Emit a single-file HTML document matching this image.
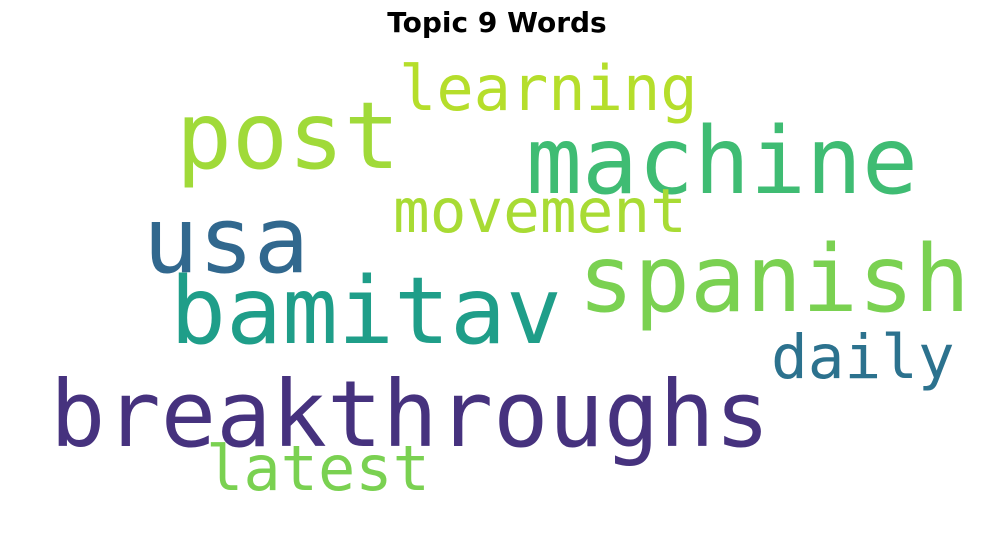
<!DOCTYPE html>
<html><head><meta charset="utf-8"><style>
html,body{margin:0;padding:0;background:#fff;}
svg{display:block;}
.w{font-family:"DejaVu Sans Mono","Liberation Mono",monospace;}
</style></head><body>
<svg width="1004" height="549" viewBox="0 0 1004 549" xmlns="http://www.w3.org/2000/svg">
<rect width="1004" height="549" fill="#ffffff"/>
<text x="497" y="32" text-anchor="middle" font-family="DejaVu Sans, Liberation Sans, sans-serif" font-weight="bold" font-size="28" fill="#000">Topic 9 Words</text>
<g id="words"></g>
</svg>
<script>
const words = ["post","machine","usa","spanish","bamitav","breakthroughs","learning","movement","daily","latest"];
const sizes = [93,93,92,93,93,92,62,61,61,62];
const colors = ["#a0da39","#3fbc73","#31688e","#7ad151","#1f9e89","#46327e","#b5de2b","#a8db34","#2c728e","#7ad151"];
const xs = [176,526,143,578,170,50,399,393,771,206];
const ys = [168,193,272,311,343,446,110,232,378,490];
const g = document.getElementById('words');
words.forEach((w,i)=>{
  const t = document.createElementNS('http://www.w3.org/2000/svg','text');
  t.setAttribute('class','w');
  t.setAttribute('x',xs[i]);
  t.setAttribute('y',ys[i]);
  t.setAttribute('font-size',sizes[i]);
  t.setAttribute('fill',colors[i]);
  t.textContent = w;
  
  
  g.appendChild(t);
});
</script>
</body></html>
